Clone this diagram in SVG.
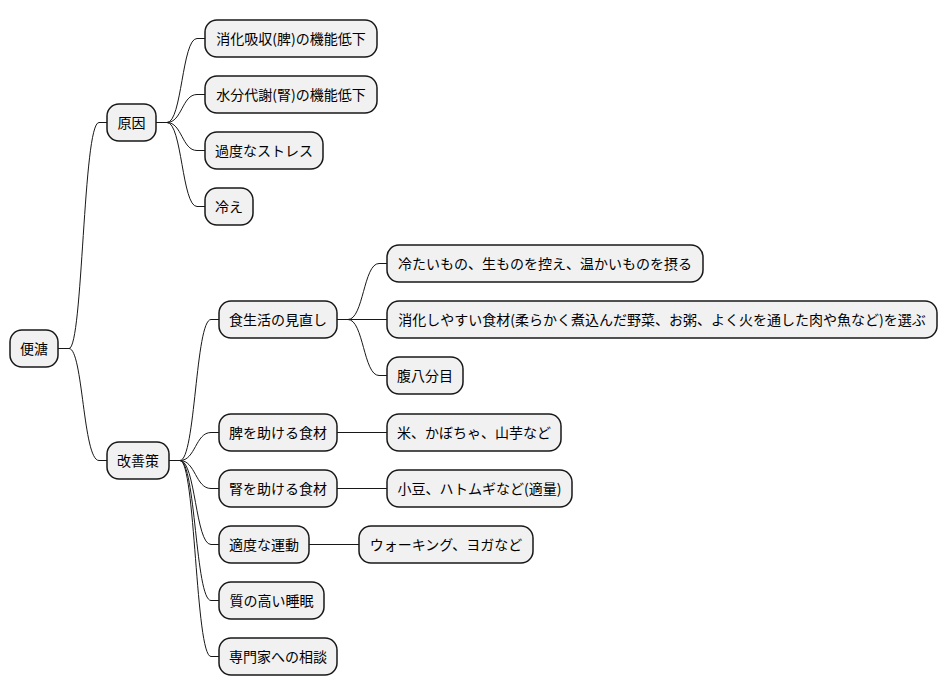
<svg xmlns="http://www.w3.org/2000/svg" width="947" height="696" viewBox="0 0 947 696">
<style>
.n rect{fill:#F1F1F1;stroke:#181818;stroke-width:1.5}
.n text{font-family:"Noto Sans CJK JP","Noto Sans",sans-serif;font-size:14px;fill:#000;text-anchor:middle}
#edges path{fill:none;stroke:#181818;stroke-width:1}
</style>
<rect width="947" height="696" fill="#FFFFFF"/>
<g id="edges">
<path d="M58,348.5 H69 C83,348.5 83,122.5 99,122.5 H107"/>
<path d="M58,348.5 H69 C83,348.5 83,460.5 99,460.5 H107"/>
<path d="M156,122.5 H167 C182,122.5 182,38.5 197,38.5 H205"/>
<path d="M156,122.5 H167 C182,122.5 182,94.5 197,94.5 H205"/>
<path d="M156,122.5 H167 C182,122.5 182,150.5 197,150.5 H205"/>
<path d="M156,122.5 H167 C182,122.5 182,206.5 197,206.5 H205"/>
<path d="M169,460.5 H180 C195.5,460.5 195.5,319.5 211,319.5 H219"/>
<path d="M169,460.5 H180 C195.5,460.5 195.5,432.5 211,432.5 H219"/>
<path d="M169,460.5 H180 C195.5,460.5 195.5,488.5 211,488.5 H219"/>
<path d="M169,460.5 H180 C195.5,460.5 195.5,544.5 211,544.5 H219"/>
<path d="M169,460.5 H180 C195.5,460.5 195.5,600.5 211,600.5 H219"/>
<path d="M169,460.5 H180 C195.5,460.5 195.5,656.5 211,656.5 H219"/>
<path d="M337,319.5 H348 C363.5,319.5 363.5,263.5 379,263.5 H387"/>
<path d="M337,319.5 H387"/>
<path d="M337,319.5 H348 C363.5,319.5 363.5,375.5 379,375.5 H387"/>
<path d="M337,432.5 H387"/>
<path d="M337,488.5 H387"/>
<path d="M309,544.5 H359"/>
</g>
<g id="n-root" class="n"><rect x="10" y="330" width="48" height="37" rx="12"/><text x="34" y="353.5">便溏</text></g>
<g id="n-cause" class="n"><rect x="107" y="104" width="49" height="37" rx="12"/><text x="131.5" y="127.5">原因</text></g>
<g id="n-c1" class="n"><rect x="205" y="20" width="172" height="37" rx="12"/><text x="291" y="43.5">消化吸収(脾)の機能低下</text></g>
<g id="n-c2" class="n"><rect x="205" y="76" width="172" height="37" rx="12"/><text x="291" y="99.5">水分代謝(腎)の機能低下</text></g>
<g id="n-c3" class="n"><rect x="205" y="132" width="118" height="37" rx="12"/><text x="264" y="155.5">過度なストレス</text></g>
<g id="n-c4" class="n"><rect x="205" y="188" width="48" height="37" rx="12"/><text x="229" y="211.5">冷え</text></g>
<g id="n-imp" class="n"><rect x="107" y="442" width="62" height="37" rx="12"/><text x="138" y="465.5">改善策</text></g>
<g id="n-diet" class="n"><rect x="219" y="301" width="118" height="37" rx="12"/><text x="278" y="324.5">食生活の見直し</text></g>
<g id="n-d1" class="n"><rect x="387" y="245" width="316" height="37" rx="12"/><text x="545" y="268.5">冷たいもの、生ものを控え、温かいものを摂る</text></g>
<g id="n-d2" class="n"><rect x="387" y="301" width="550" height="37" rx="12"/><text x="662" y="324.5">消化しやすい食材(柔らかく煮込んだ野菜、お粥、よく火を通した肉や魚など)を選ぶ</text></g>
<g id="n-d3" class="n"><rect x="387" y="357" width="76" height="37" rx="12"/><text x="425" y="380.5">腹八分目</text></g>
<g id="n-spleen" class="n"><rect x="219" y="414" width="118" height="37" rx="12"/><text x="278" y="437.5">脾を助ける食材</text></g>
<g id="n-s1" class="n"><rect x="387" y="414" width="174" height="37" rx="12"/><text x="474" y="437.5">米、かぼちゃ、山芋など</text></g>
<g id="n-kidney" class="n"><rect x="219" y="470" width="118" height="37" rx="12"/><text x="278" y="493.5">腎を助ける食材</text></g>
<g id="n-k1" class="n"><rect x="387" y="470" width="185" height="37" rx="12"/><text x="479.5" y="493.5">小豆、ハトムギなど(適量)</text></g>
<g id="n-ex" class="n"><rect x="219" y="526" width="90" height="37" rx="12"/><text x="264" y="549.5">適度な運動</text></g>
<g id="n-e1" class="n"><rect x="359" y="526" width="174" height="37" rx="12"/><text x="446" y="549.5">ウォーキング、ヨガなど</text></g>
<g id="n-sleep" class="n"><rect x="219" y="582" width="105" height="37" rx="12"/><text x="271.5" y="605.5">質の高い睡眠</text></g>
<g id="n-consult" class="n"><rect x="219" y="638" width="118" height="37" rx="12"/><text x="278" y="661.5">専門家への相談</text></g>
</svg>
